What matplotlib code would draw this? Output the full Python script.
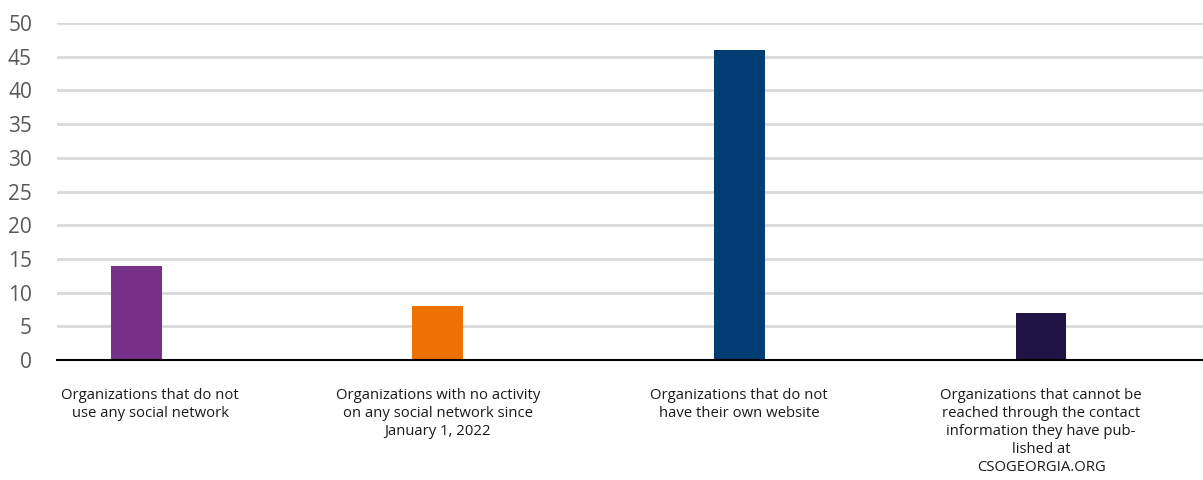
import numpy as np
import matplotlib.pyplot as plt
from matplotlib.transforms import ScaledTranslation

# data
labels = ["Organizations that do not\nuse any social network",
          "Organizations with no activity\non any social network since\nJanuary 1, 2022",
          "Organizations that do not\nhave their own website",
          "Organizations that cannot be\nreached through the contact\ninformation they have pub-\nlished at\nCSOGEORGIA.ORG"]
values = [14, 8, 46, 7]
colors = ["#783189", "#EE7203", "#003D73", "#201447"]
yticks = [0, 5, 10, 15, 20, 25, 30, 35, 40, 45, 50]

plt.rcParams['font.family'] = ['Open Sans', 'DejaVu Sans']

fig = plt.figure(figsize=(12.03, 4.8), dpi=100)
ax = fig.add_axes([57/1203, 120/480, 1 - 57/1203, 337/480])

x = np.arange(len(values))
ax.bar(x, values, width=0.169, color=colors, zorder=3)

ax.set_xlim(-0.262, 3.537)
ax.set_ylim(0, 50)
ax.set_yticks(yticks)
ax.yaxis.grid(True, color="#D9D9D9", linewidth=2, zorder=0)
ax.set_axisbelow(True)

ax.set_xticks(x)
ax.set_xticklabels(labels, fontsize=10.7, color="#1a1a1a", linespacing=1.27, va="top")
ax.tick_params(axis="x", length=0, pad=20)
ax.tick_params(axis="y", length=0, pad=18, labelsize=15, labelcolor="#595959")
for t in ax.get_yticklabels():
    t.set_horizontalalignment("right")

# first label sits a bit right of its bar
lab0 = ax.get_xticklabels()[0]
lab0.set_transform(lab0.get_transform() + ScaledTranslation(0.14, 0, fig.dpi_scale_trans))

for s in ["top", "right", "left"]:
    ax.spines[s].set_visible(False)
ax.spines["bottom"].set_color("black")
ax.spines["bottom"].set_linewidth(1.5)
ax.spines["bottom"].set_zorder(4)

fig.savefig("out.png", dpi=100)
